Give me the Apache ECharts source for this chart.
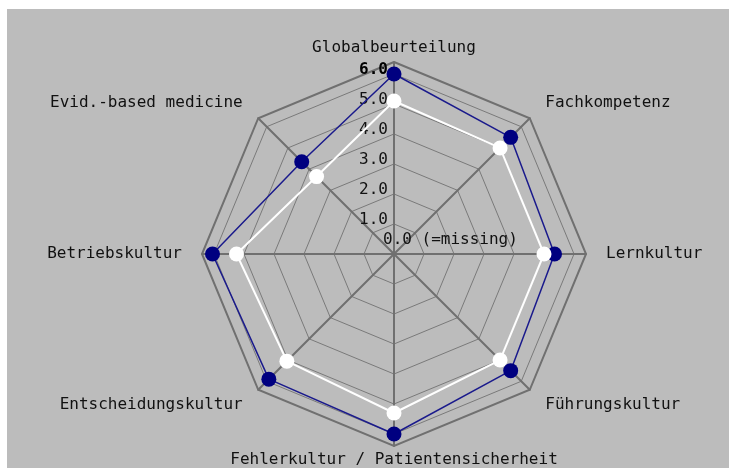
<!DOCTYPE html>
<html>
<head>
<meta charset="utf-8">
<title></title>
<script src="https://cdn.jsdelivr.net/npm/echarts@6/dist/echarts.min.js"></script>
<style>
  html, body { margin: 0; padding: 0; background: #fff; }
  #main { position: absolute; left: 7px; top: 9px; width: 722px; height: 459px; }
</style>
</head>
<body>
<div id="main"></div>
<script>
// radar axes, going round from the top (echarts order = counterclockwise)
var axes = ['Globalbeurteilung', 'Evid.-based medicine', 'Betriebskultur', 'Entscheidungskultur',
            'Fehlerkultur / Patientensicherheit', 'Führungskultur', 'Lernkultur', 'Fachkompetenz'];
var nameGaps = [6, 22, 20, 22, 6, 22, 20, 22];
var blueValues = [6.0, 4.35, 6.05, 5.9, 6.0, 5.5, 5.35, 5.5];
var whiteValues = [5.1, 3.65, 5.25, 5.05, 5.3, 5.0, 5.0, 5.0];
var axisMax = 6;
var missingLabel = '0.0 (=missing)';

var font = 'DejaVu Sans Mono';
var myChart = echarts.init(document.getElementById('main'));

var option = {
  backgroundColor: '#bcbcbc',
  animation: false,
  radar: [{
    // frame: outer octagon + spokes + names
    center: [387, 245],
    radius: 192,
    startAngle: 90,
    splitNumber: 1,
    indicator: axes.map(function (a, i) {
      return { name: a, max: 1, nameGap: nameGaps[i] };
    }),
    axisName: { color: '#111', fontFamily: font, fontSize: 16 },
    axisLine: { lineStyle: { color: '#707070', width: 2 } },
    splitLine: { lineStyle: { color: '#707070', width: 2 } },
    splitArea: { show: false },
    axisLabel: { show: false }
  }, {
    // data rings 1..6
    center: [387, 245],
    radius: 180,
    startAngle: 90,
    splitNumber: 6,
    indicator: axes.map(function (a, i) {
      var ind = { name: '', max: axisMax, min: 0 };
      if (i === 0) ind.axisLabel = { show: true };
      return ind;
    }),
    axisName: { show: false },
    axisLine: { show: false },
    splitLine: { lineStyle: { color: '#7a7a7a', width: 1 } },
    splitArea: { show: false },
    axisLabel: {
      show: false,
      showMinLabel: false,
      margin: 6,
      fontFamily: font,
      fontSize: 16,
      color: '#111',
      padding: [0, 0, 8, 0],
      formatter: function (v) {
        if (v === 0) return '';
        return v === axisMax ? '{b|' + v.toFixed(1) + '}' : v.toFixed(1);
      },
      rich: { b: { fontFamily: font, fontSize: 16, fontWeight: 'bold', color: '#000' } }
    }
  }],
  graphic: [{
    type: 'text',
    left: 376,
    top: 223,
    z: 10,
    style: { text: missingLabel, font: '16px "DejaVu Sans Mono"', fill: '#111' }
  }],
  series: [{
    type: 'radar',
    radarIndex: 1,
    symbol: 'circle',
    symbolSize: 15,
    lineStyle: { color: '#1a1a8c', width: 1.5 },
    itemStyle: { color: '#000080' },
    data: [{ value: blueValues }]
  }, {
    type: 'radar',
    radarIndex: 1,
    symbol: 'circle',
    symbolSize: 15,
    lineStyle: { color: '#ffffff', width: 2 },
    itemStyle: { color: '#ffffff' },
    data: [{ value: whiteValues }]
  }]
};

myChart.setOption(option);
</script>
</body>
</html>
